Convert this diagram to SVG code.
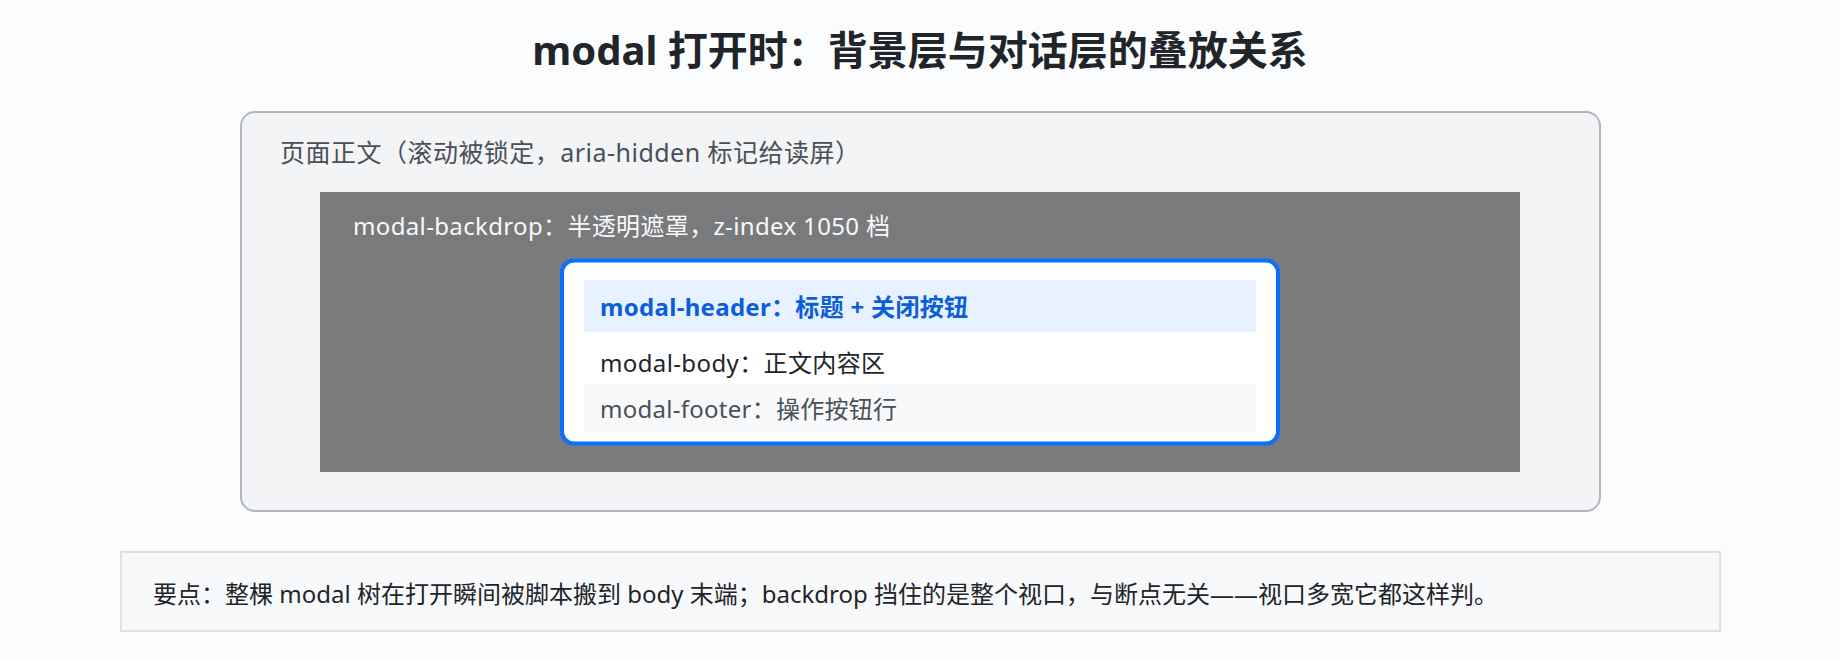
<svg xmlns="http://www.w3.org/2000/svg" width="1840" height="660" viewBox="0 0 1840 660">
<style>
text{font-family:"Noto Sans","Noto Sans CJK SC",sans-serif;}
.title{font-size:40px;font-weight:700;fill:#212529;}
.lbl{font-size:24px;}
</style>
<rect x="0" y="0" width="1840" height="660" fill="#fbfcfe"/>
<text class="title" x="920" y="65" text-anchor="middle">modal 打开时：背景层与对话层的叠放关系</text>
<g id="page">
<rect x="241" y="112" width="1359" height="399" rx="14" fill="#f3f4f6" stroke="#b2b7bd" stroke-width="2"/>
<text class="lbl" x="280" y="162" fill="#495057" font-size="25" style="font-size:25px" textLength="580" lengthAdjust="spacing">页面正文（滚动被锁定，aria-hidden 标记给读屏）</text>
</g>
<g id="backdrop">
<rect x="320" y="192" width="1200" height="280" fill="#797a7b"/>
<text class="lbl" x="353" y="235" fill="#f8f9fa" textLength="537" lengthAdjust="spacing">modal-backdrop：半透明遮罩，z-index 1050 档</text>
</g>
<g id="dialog">
<rect x="562" y="260.5" width="716" height="183" rx="12" fill="#ffffff" stroke="#0d6efd" stroke-width="4"/>
<g id="header">
<rect x="584" y="280" width="672" height="52" fill="#e7f1ff"/>
<text class="lbl" x="600" y="316" fill="#0b5ed7" font-weight="700" textLength="368" lengthAdjust="spacing">modal-header：标题 + 关闭按钮</text>
</g>
<g id="body">
<text class="lbl" x="600" y="372" fill="#212529" textLength="285" lengthAdjust="spacing">modal-body：正文内容区</text>
</g>
<g id="footer">
<rect x="584" y="384" width="672" height="48" fill="#f8f9fa"/>
<text class="lbl" x="600" y="418" fill="#495057" textLength="297" lengthAdjust="spacing">modal-footer：操作按钮行</text>
</g>
</g>
<g id="note">
<rect x="121" y="552" width="1599" height="79" fill="#f8f9fa" stroke="#dee2e6" stroke-width="2"/>
<text class="lbl" x="153" y="603" fill="#212529" textLength="1345" lengthAdjust="spacing">要点：整棵 modal 树在打开瞬间被脚本搬到 body 末端；backdrop 挡住的是整个视口，与断点无关——视口多宽它都这样判。</text>
</g>
<g id="connectors"></g>
</svg>
